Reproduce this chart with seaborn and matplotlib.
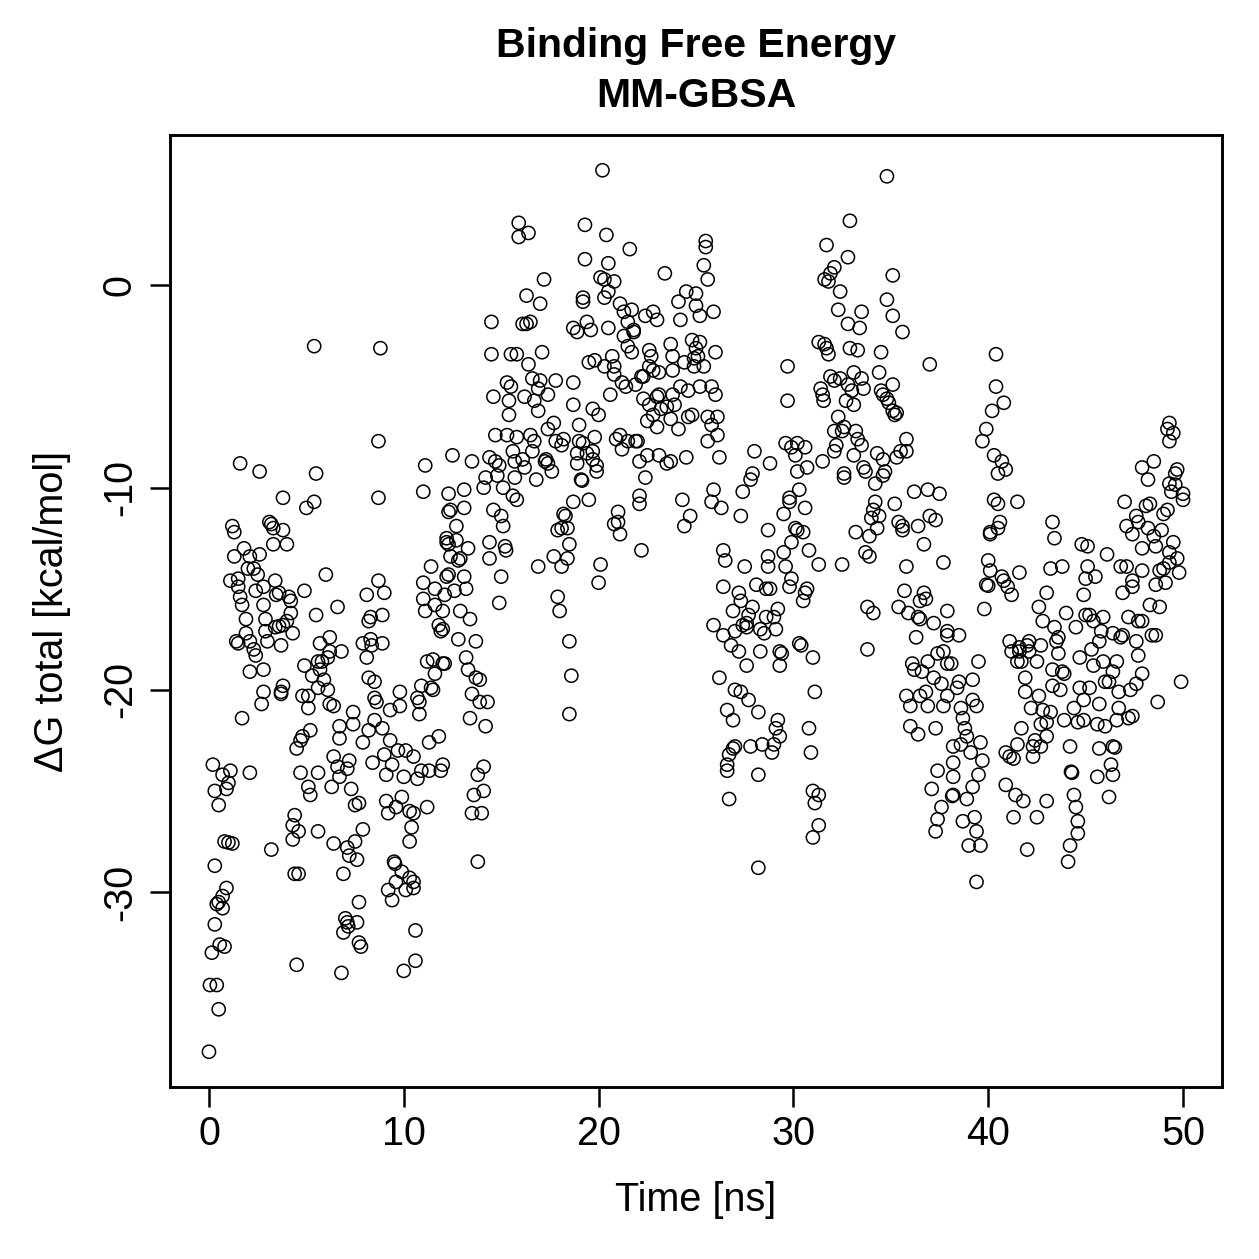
import numpy as np
import pandas as pd
import matplotlib
matplotlib.use("Agg")
import matplotlib.pyplot as plt
import seaborn as sns

# frames: time [ns] and dG total [kcal/mol]
time_ns = [
    0.0, 0.05, 0.4, 0.15, 0.3, 0.4, 0.7, 0.9, 0.7, 0.5, 0.55, 0.8, 0.3, 0.2, 0.3, 0.5, 0.7, 1.1, 1.0, 0.9, 0.8, 1.2, 1.0, 0.5,
    1.2, 1.3, 1.6, 1.8, 1.3, 2.1, 2.6, 2.0, 2.3, 2.5, 1.1, 1.5, 1.5, 1.7, 1.9, 1.4, 1.5, 2.1, 2.3, 2.4, 1.7, 2.1, 2.1, 1.6, 1.9,
    2.6, 5.4, 5.5, 3.8, 5.4, 5.0, 3.1, 3.2, 3.3, 3.8, 3.3, 4.0, 6.0, 3.4, 2.8, 2.4, 3.6, 3.45, 4.1, 4.2, 4.9, 2.8, 4.2, 4.0, 3.8,
    2.9, 2.9, 5.5, 6.6, 3.4, 3.6, 4.3, 3.0, 3.7, 6.2, 5.7, 6.8, 6.2,
    4.9, 5.3, 5.6, 5.8, 6.1, 5.7, 5.9, 5.6, 6.1, 3.8, 3.7, 2.8, 2.8, 4.8, 5.1,
    2.7, 3.7, 5.1, 6.2, 6.4,
    5.2, 4.8, 4.7, 4.5, 4.7, 5.1, 5.2, 5.6,
    4.4, 4.3, 4.6, 4.3, 5.6, 3.2, 4.4, 4.6, 4.5,
    6.4, 6.6, 7.2, 7.1, 6.7, 6.3, 7.3, 7.5, 7.7,
    6.4, 7.1, 7.5, 7.9, 7.2, 7.6, 6.9,
    7.7, 7.0, 7.1, 7.15, 6.9, 7.6, 7.7, 7.8, 6.8,
    7.4, 7.4, 6.7, 6.7, 8.2, 8.5, 8.9, 7.9, 9.3, 9.7, 10.1, 10.5, 9.0, 9.4, 8.4, 9.1, 10.0, 10.7, 10.9, 11.3, 11.8, 11.3, 12.0, 11.9,
    8.6, 9.3, 9.8, 9.8, 10.8, 10.8, 11.5, 10.7, 8.5,
    9.1, 9.9, 9.2, 9.6, 10.3, 10.5, 11.2, 10.4, 10.3,
    9.5, 9.55, 9.9, 9.6, 10.3, 10.5, 10.1, 10.5, 9.2, 9.4,
    10.6, 10.6, 10.0,
    8.8, 8.7, 11.1, 11.0, 8.7,
    8.1, 8.7, 9.0, 8.3, 8.2, 8.9, 7.9, 8.3, 8.9, 8.35, 8.1, 8.2, 8.5,
    11.1, 11.8, 11.9, 11.6, 11.0, 11.0, 11.4, 11.6, 12.1, 12.2, 12.2, 12.3,
    11.2, 11.5, 12.0, 11.6, 10.9, 11.4,
    12.3, 13.1, 12.4, 13.1, 12.7, 12.2, 12.3, 12.7, 13.3, 12.4, 12.8, 12.9, 12.3, 13.1, 12.6, 13.2, 12.9, 13.4, 12.0, 12.8,
    13.7, 12.0, 13.2, 13.3, 13.7, 13.9, 12.1, 13.5, 13.9, 14.3, 13.4, 14.2, 13.8, 14.1, 13.6, 14.1, 13.8, 13.5, 14.0,
    12.5, 13.5, 14.2, 14.1, 14.4, 14.7, 14.9, 14.8, 15.1, 15.6, 15.8, 14.6, 15.0, 15.1, 14.4, 15.2, 15.25, 14.4, 15.0, 14.9,
    15.6, 15.7, 16.1, 16.6, 16.2, 15.7, 16.8, 17.3, 17.4, 17.6, 17.25, 18.1, 18.9, 18.9, 19.4, 19.7, 19.7, 19.9, 19.9, 19.1, 19.15,
    18.7, 18.2, 18.3, 17.9, 18.1, 18.4, 18.5, 17.7, 18.1, 18.4, 16.9, 17.9, 18.0, 18.5, 18.6, 18.5, 19.5, 20.1, 20.0,
    21.0, 20.8, 21.0, 21.1, 22.1, 22.5, 23.1, 23.5, 23.7, 24.5, 22.4, 22.1, 22.1, 22.2, 24.3, 24.7, 24.4, 21.2, 21.9,
    20.2, 15.9, 16.4, 15.9, 19.3, 20.4, 21.6, 19.3, 20.5, 23.4, 17.2, 20.1, 20.3, 20.8, 20.5, 20.3, 16.3, 17.0, 19.2, 19.2,
    14.5, 16.1, 16.3, 16.5, 18.7, 18.9, 19.4, 19.6, 20.5,
    21.1, 21.3, 21.7, 21.5, 21.8, 21.8, 21.3, 21.5, 21.7, 22.4, 22.8, 23.0, 24.1, 24.5, 25.0, 25.0, 25.2, 24.2,
    14.5, 15.5, 15.8, 16.4, 17.1, 19.5, 19.8, 20.3, 20.7, 20.8, 20.8,
    22.6, 22.7, 22.6, 22.8, 22.3, 23.1, 23.7, 23.8, 23.8, 24.4, 24.8, 25.0, 24.9, 25.1,
    15.3, 15.5, 14.6, 15.4, 15.4, 16.2, 16.6, 17.0, 17.8, 16.9, 16.7, 16.9, 17.4, 18.7, 18.7, 19.0, 19.7, 20.0, 20.6,
    21.2, 21.4, 21.9, 22.2, 22.3, 22.6, 23.0, 23.1, 22.8, 22.5, 23.2, 23.5, 23.8, 23.9, 24.2, 24.6, 24.6, 24.8, 24.1, 23.7, 23.0,
    14.7, 15.3, 15.8, 16.5, 16.7, 17.4, 17.7, 17.8, 18.2, 19.0, 19.2, 19.8, 20.9, 21.1, 21.5, 22.0,
    25.5, 25.5, 25.4, 25.6, 25.9, 25.2, 25.4, 24.9,
    26.0, 25.2, 25.8, 26.0, 25.6, 26.1, 25.8, 26.1, 25.6, 26.2, 25.9,
    29.7, 29.7,
    29.6, 30.2, 29.9, 30.6, 30.1, 30.7, 30.2, 30.3, 29.8, 28.8, 28.0, 27.9, 27.8, 27.4,
    25.8, 26.3, 27.3, 28.7, 29.5, 29.8, 30.6,
    30.1, 30.2, 30.5, 29.9, 29.5, 29.6, 30.8, 31.3, 32.5,
    26.4, 26.5, 27.5, 28.7, 28.7, 26.4, 27.2, 27.3, 26.9, 28.1, 28.6, 28.8, 29.2, 29.0, 28.6, 27.9, 27.7, 27.6, 27.4, 27.6,
    28.3, 28.5, 29.1, 27.0, 26.4, 25.9, 26.8, 27.2, 28.3, 29.3, 29.4, 29.3, 27.6, 29.9, 29.8, 30.7, 30.6, 30.5, 30.3, 30.4, 31.0,
    26.2, 27.0, 27.3, 27.7, 26.6, 26.9, 28.2, 29.2, 29.1, 29.3, 29.0, 28.9, 28.4, 27.8, 27.0, 26.9, 26.7, 26.6, 26.6, 28.2,
    26.7, 28.2, 31.1, 30.8, 30.9, 31.0, 31.3, 31.1, 31.3, 31.0,
    34.8, 32.9, 31.7, 32.8, 32.1, 31.9, 31.6, 31.8, 32.4, 32.3, 35.1, 34.8, 35.1, 35.6, 32.8, 33.4, 33.5, 31.3, 31.6, 31.7,
    31.8, 32.9, 33.3, 34.5, 37.0,
    31.9, 32.1, 32.4, 32.8, 33.1, 33.5, 33.6, 33.0, 32.7, 33.1, 31.4, 31.5, 31.55, 34.4, 34.5, 34.6, 34.8, 34.9, 35.1, 35.1,
    35.3, 35.2,
    32.3, 32.1, 32.5, 32.6, 33.2, 33.3, 33.5, 33.1, 31.5, 32.1, 32.2, 33.6, 33.7, 34.2, 34.3, 34.6, 34.7, 34.6, 35.3, 35.5,
    35.8, 35.8, 32.6, 32.6,
    36.2, 36.9, 37.5,
    33.2, 33.9, 33.7, 33.9, 34.1, 34.2, 34.0, 34.4, 34.3, 35.2, 35.4, 35.6, 35.6, 37.0, 37.3, 36.4, 36.7, 35.8, 37.7,
    33.8, 34.1, 33.8,
    35.7, 36.7, 36.8, 36.5, 35.4, 35.9, 36.4, 36.5, 37.2, 37.9, 37.9, 37.9, 36.3, 37.4, 37.7, 36.9, 37.9, 36.1, 36.2, 36.6,
    37.2, 37.6, 37.9, 35.8, 36.0, 36.5, 36.8, 36.9, 37.7, 36.0, 36.4, 37.3, 38.2, 38.2, 37.4, 37.1, 38.2, 38.2, 37.6, 37.4,
    37.3,
    40.4, 40.4, 40.8, 40.2, 39.9, 39.7, 40.3, 40.7, 40.9, 40.5, 40.3, 40.5, 41.5, 40.6, 40.1, 40.1, 40.5, 38.5,
    40.0, 40.1, 39.9, 40.0, 40.7, 40.8, 41.0, 41.2, 41.6, 39.8,
    43.3, 43.4,
    43.2, 43.8, 43.0, 42.6, 42.8, 43.4, 43.6, 43.5, 44.0, 44.5, 42.1, 41.6, 41.1,
    44.8, 45.1, 46.1, 45.1, 45.5, 45.0, 44.9, 45.0, 45.2, 45.4, 45.9, 45.8, 46.4, 46.8, 46.9, 45.7,
    46.8, 47.1, 47.4, 47.4, 46.9, 47.9, 47.2, 47.7, 48.3, 48.8, 48.4, 47.6, 48.6, 47.9,
    47.0, 47.6, 47.7, 48.1, 48.3, 47.1, 47.4, 48.2, 48.5, 48.6, 47.9, 48.9, 49.0, 49.2, 49.5, 49.3, 49.7, 49.8, 49.0, 48.8,
    48.6, 49.1, 49.3,
    47.9, 48.5, 48.2,
    49.3, 49.2, 49.5, 49.3,
    49.7, 49.6, 49.3, 49.6, 49.4, 50.0, 50.0,
    39.5, 39.2, 38.1, 38.4, 38.5, 38.6, 39.2, 39.4, 38.7, 38.8, 38.9, 38.6, 39.1, 39.6, 39.7, 39.5, 39.2, 38.9, 38.15, 38.7,
    39.3, 39.4, 39.0, 39.6, 39.4,
    41.2, 41.5, 41.7, 41.6, 42.0, 42.1, 42.5, 42.7, 43.6, 41.9, 41.9, 42.6, 43.3, 43.8, 43.9, 43.7, 43.3, 44.7, 45.4, 45.3,
    45.9, 46.6, 46.4, 46.0, 46.2, 47.9, 47.6, 47.3, 46.7, 47.7, 44.7, 45.2, 44.9, 45.7, 46.7, 44.4, 42.2, 42.8, 43.2, 42.7,
    43.0, 43.9, 44.6, 44.9, 45.6, 46.0, 46.6, 47.2, 47.4, 41.7, 43.0, 42.4, 42.3, 42.7, 41.5, 40.9, 41.1, 41.3, 42.3, 44.2,
    45.7, 46.4, 46.5, 44.3, 44.25, 46.3, 46.4, 45.6, 40.9, 41.4, 41.8, 43.0, 44.4, 44.5, 44.6, 44.6, 44.2, 44.1, 46.2, 41.3,
    42.5, 42.0, 49.9, 48.7,
]

dg_total = [
    -37.9, -34.6, -34.6, -33.0, -31.6, -30.6, -30.8, -29.8, -30.2, -30.5, -32.6, -32.7, -28.7, -23.7, -25.0, -25.7, -24.2, -24.0, -24.6, -24.9, -27.5, -27.6, -27.55, -35.8,
    -11.9, -12.2, -8.8, -13.0, -13.4, -13.4, -13.3, -14.0, -14.0, -14.3, -14.6, -14.5, -14.9, -15.8, -17.2, -17.6, -17.7, -17.6, -18.0, -18.3, -21.4, -19.1, -24.1, -15.4, -16.5,
    -9.2, -3.0, -9.3, -10.5, -10.7, -11.0, -11.7, -11.8, -12.0, -12.1, -12.8, -12.8, -14.3, -14.6, -14.9, -15.1, -15.2, -15.3, -15.4, -15.6, -15.1, -15.8, -16.2, -16.6, -16.8,
    -16.5, -17.1, -16.3, -15.9, -16.9, -16.85, -17.2, -17.6, -17.8, -17.4, -17.7, -18.1, -18.1,
    -18.8, -19.3, -18.6, -18.6, -18.4, -19.0, -19.5, -19.9, -20.0, -19.8, -20.1, -20.1, -19.0, -20.3, -20.3,
    -20.7, -20.2, -20.9, -20.7, -20.8,
    -22.0, -22.3, -22.5, -22.9, -24.1, -24.8, -25.2, -24.1,
    -26.2, -26.7, -27.0, -27.4, -27.0, -27.9, -29.1, -29.1, -33.6,
    -23.3, -23.8, -23.5, -23.9, -24.3, -24.8, -24.9, -25.7, -25.6,
    -27.6, -27.8, -27.5, -26.9, -28.2, -28.4, -29.1,
    -30.5, -31.3, -31.5, -31.7, -32.0, -31.5, -32.5, -32.7, -34.0,
    -21.1, -21.7, -21.8, -22.4, -22.0, -21.5, -21.9, -22.6, -22.5, -23.0, -23.0, -23.3, -23.2, -23.7, -23.6, -24.2, -24.3, -24.4, -24.0, -24.0, -22.3, -22.6, -23.7, -24.0,
    -20.6, -21.0, -20.8, -20.1, -20.6, -21.2, -20.0, -20.4, -20.4,
    -25.5, -25.3, -26.1, -25.8, -26.0, -26.1, -25.8, -26.8, -27.5,
    -28.5, -28.6, -29.0, -29.5, -29.3, -29.5, -29.9, -29.8, -29.9, -30.4,
    -31.9, -33.4, -33.9,
    -3.1, -7.7, -8.9, -10.2, -10.5,
    -15.3, -14.6, -15.2, -16.4, -16.6, -16.3, -17.7, -17.5, -17.7, -17.8, -18.4, -19.4, -19.6,
    -16.1, -16.8, -17.1, -15.8, -15.5, -14.7, -13.9, -15.0, -15.3, -14.4, -12.7, -11.2,
    -18.6, -18.5, -18.7, -19.2, -19.8, -19.9,
    -10.3, -10.1, -11.1, -11.0, -11.9, -12.5, -12.8, -12.6, -13.0, -13.4, -13.6, -13.5, -14.3, -14.4, -15.1, -15.0, -16.1, -16.5, -16.1, -17.5,
    -17.6, -17.0, -18.4, -19.0, -19.4, -19.5, -18.7, -20.2, -20.6, -20.6, -21.4, -21.8, -24.2, -23.8, -25.2, -25.0, -28.5, -26.1, -26.1,
    -8.4, -8.7, -9.5, -10.0, -8.5, -8.7, -8.9, -9.4, -10.0, -10.4, -10.6, -11.1, -11.4, -11.9, -12.7, -12.9, -13.1, -13.5, -14.4, -15.7,
    -8.2, -8.7, -8.6, -8.2, -9.0, -9.5, -9.6, -8.6, -8.8, -9.2, -8.7, -7.9, -8.3, -8.8, -8.3, -8.2, -8.6, -9.2, -8.9, -9.6, -9.65,
    -10.7, -11.3, -11.4, -12.1, -12.0, -12.0, -12.8, -13.4, -13.9, -13.5, -13.9, -15.4, -16.1, -17.6, -19.3, -21.2, -10.6, -13.8, -14.7,
    -11.2, -11.8, -11.7, -12.3, -8.7, -8.4, -8.4, -8.8, -8.7, -8.5, -9.5, -10.4, -10.8, -13.1, -10.6, -11.4, -11.9, -8.1, -7.7,
    5.7, 3.1, 2.6, 2.4, 3.0, 2.5, 1.8, 1.3, 1.1, 0.6, 0.3, 0.4, 0.3, 0.2, -0.3, -0.6, -0.5, -0.9, -0.6, -0.8,
    -1.8, -1.9, -1.9, -1.8, -2.1, -2.3, -1.8, -2.2, -2.1,
    -0.9, -1.3, -1.2, -1.8, -2.2, -2.3, -2.5, -3.0, -3.3, -1.5, -1.3, -1.7, -0.8, -0.3, -0.4, -1.0, -1.5, -1.7,
    -3.4, -3.4, -3.4, -3.9, -3.3, -3.8, -3.7, -4.0, -3.5, -4.0, -4.4,
    -3.2, -3.5, -4.0, -4.2, -4.5, -4.3, -2.9, -3.5, -4.2, -3.8, -2.7, -3.1, -3.6, -3.5,
    -4.8, -5.0, -5.5, -5.7, -6.4, -5.5, -4.6, -4.7, -4.7, -5.1, -5.7, -6.2, -5.4, -4.8, -5.9, -6.9, -6.1, -6.4, -5.4,
    -4.8, -5.0, -4.9, -4.5, -5.6, -5.9, -5.5, -5.4, -6.4, -6.7, -6.1, -6.0, -5.4, -5.9, -5.0, -5.2, -6.5, -6.4, -7.1, -6.6, -7.0,
    -7.4, -7.4, -7.5, -7.4, -7.7, -7.1, -6.8, -7.7, -7.6, -7.7, -7.8, -7.5, -7.6, -7.4, -7.7, -7.7,
    2.2, 1.9, 1.0, 0.3, -1.3, -2.8, -4.0, -4.0,
    -3.3, -5.0, -5.0, -5.4, -6.5, -6.5, -6.9, -7.4, -7.7, -8.5, -10.1,
    -4.0, -5.7,
    -7.8, -7.8, -8.0, -8.0, -8.4, -9.0, -9.2, -10.1, -10.5, -8.8, -8.2, -9.3, -9.6, -10.2,
    -10.7, -11.0, -11.4, -12.1, -11.3, -10.7, -11.0,
    -12.0, -12.1, -12.2, -12.7, -13.2, -13.9, -13.1, -13.8, -13.8,
    -13.1, -13.6, -13.9, -13.4, -13.9, -14.9, -15.2, -15.6, -16.1, -14.8, -15.0, -15.0, -16.0, -16.4, -16.4, -15.9, -16.3, -16.7, -16.8, -16.9,
    -17.0, -17.2, -17.0, -17.1, -17.3, -16.8, -17.8, -18.1, -18.1, -18.1, -18.2, -18.8, -18.8, -14.5, -14.9, -15.0, -15.2, -15.6, -17.7, -17.8, -18.4,
    -19.4, -20.0, -20.1, -20.5, -21.0, -21.5, -21.1, -21.5, -21.9, -22.3, -22.7, -23.1, -22.7, -22.8, -22.8, -22.9, -23.2, -23.7, -24.0, -24.2,
    -25.4, -28.8, -20.1, -21.9, -23.1, -25.0, -25.2, -25.6, -26.7, -27.3,
    5.4, 3.2, 2.0, 1.4, 0.9, 0.6, 0.3, 0.2, -0.3, -1.2, 0.5, -0.7, -1.5, -2.3, -1.9, -2.1, -1.3, -2.8, -2.9, -3.1,
    -3.4, -3.1, -3.2, -3.3, -3.9,
    -4.5, -4.7, -4.6, -4.9, -4.3, -4.6, -5.1, -5.2, -5.7, -5.9, -5.1, -5.4, -5.7, -4.3, -5.2, -5.4, -5.6, -5.8, -6.2, -4.9,
    -6.3, -6.4,
    -6.5, -7.2, -7.2, -7.0, -7.2, -7.6, -7.9, -8.4, -8.7, -8.2, -7.9, -9.0, -9.2, -9.8, -8.3, -8.6, -9.2, -9.4, -8.5, -8.2,
    -7.6, -8.2, -9.3, -9.5,
    -10.2, -10.1, -10.3,
    -12.2, -12.4, -13.2, -13.4, -11.1, -10.7, -11.5, -11.4, -12.0, -10.8, -11.7, -11.9, -12.1, -11.4, -11.6, -11.9, -12.8, -13.9, -13.7,
    -15.9, -16.2, -18.0,
    -15.1, -15.2, -15.5, -15.6, -15.9, -16.2, -16.4, -16.5, -16.7, -16.1, -17.1, -17.3, -17.4, -18.2, -18.1, -18.6, -18.7, -18.7, -19.0, -19.1,
    -19.4, -19.7, -20.3, -20.3, -20.8, -20.3, -20.1, -20.8, -20.8, -21.8, -22.2, -21.9, -22.8, -23.6, -24.0, -24.9, -24.3, -25.2, -25.8, -26.4,
    -27.0,
    -3.4, -5.0, -5.8, -6.2, -7.1, -7.7, -8.4, -8.7, -9.1, -9.3, -10.6, -10.8, -10.7, -11.7, -12.2, -12.3, -12.0, -17.3,
    -13.6, -14.1, -14.8, -14.85, -14.4, -14.6, -14.9, -15.3, -14.2, -16.0,
    -11.7, -12.5,
    -14.0, -13.9, -15.2, -15.9, -16.6, -16.9, -17.4, -17.6, -16.2, -16.9, -17.6, -17.9, -17.6,
    -12.8, -12.9, -13.3, -13.9, -14.4, -14.5, -15.3, -16.3, -16.3, -16.6, -16.4, -17.1, -17.2, -17.4, -17.3, -17.6,
    -13.9, -13.9, -14.6, -14.9, -15.2, -14.1, -16.4, -16.6, -15.8, -15.9, -17.3, -17.6, -17.3, -16.6,
    -10.7, -11.4, -11.7, -10.9, -10.8, -11.9, -12.3, -12.0, -12.4, -12.9, -13.0, -12.1, -11.3, -11.1, -12.7, -13.2, -13.5, -14.2, -14.0, -14.1,
    -14.8, -14.7, -13.7,
    -9.0, -8.7, -9.6,
    -6.8, -7.1, -7.3, -7.7,
    -9.1, -9.3, -9.8, -9.85, -10.2, -10.3, -10.6,
    -18.6, -19.5, -18.7, -19.9, -19.6, -20.9, -20.5, -20.8, -21.4, -21.9, -22.3, -22.7, -23.1, -22.6, -23.5, -24.2, -24.8, -25.4, -25.25, -26.5,
    -26.3, -27.0, -27.7, -27.7, -29.5,
    -18.1, -18.6, -18.6, -18.1, -17.8, -18.1, -18.6, -17.8, -18.2, -19.4, -20.1, -20.3, -19.0, -19.1, -19.2, -20.0, -19.8, -18.4, -18.8, -18.0,
    -18.6, -18.6, -19.1, -19.6, -19.6, -19.2, -19.7, -20.0, -20.1, -18.3, -19.9, -19.9, -20.5, -20.7, -20.9, -20.9, -20.9, -21.0, -21.1, -21.7,
    -21.6, -21.5, -21.6, -21.5, -21.7, -21.8, -21.5, -21.4, -21.3, -21.9, -22.3, -22.5, -22.8, -22.8, -22.7, -23.1, -23.3, -23.4, -23.3, -22.8,
    -22.9, -22.8, -22.85, -24.1, -24.05, -23.7, -24.2, -24.3, -24.7, -25.2, -25.5, -25.5, -25.2, -25.8, -26.5, -27.1, -27.7, -28.5, -25.3, -26.3,
    -26.3, -27.9, -19.6, -20.6,
]

title_lines = ["Binding Free Energy", "MM-GBSA"]
x_label = "Time [ns]"
y_label = "\u0394G total [kcal/mol]"
x_ticks = [0, 10, 20, 30, 40, 50]
y_ticks = [-30, -20, -10, 0]

df = pd.DataFrame({"time": time_ns, "dg": dg_total})

sns.set_style("ticks")
plt.rcParams["font.family"] = ["Liberation Sans", "DejaVu Sans"]
plt.rcParams["text.color"] = "black"

W = H = 1259
fig = plt.figure(figsize=(W / 100, H / 100), dpi=100)
ax = fig.add_axes([170 / W, 1 - 1087 / H, 1052 / W, 952 / H])

sns.scatterplot(
    data=df, x="time", y="dg", ax=ax,
    marker="o", s=90, facecolors="none", edgecolor="black", linewidth=1.1,
    legend=False,
)

# R-style 4% padding around the data range
span_x = max(time_ns) - min(time_ns)
span_y = max(dg_total) - min(dg_total)
ax.set_xlim(min(time_ns) - 0.04 * span_x, max(time_ns) + 0.04 * span_x)
ax.set_ylim(min(dg_total) - 0.04 * span_y, max(dg_total) + 0.04 * span_y)

ax.set_xticks(x_ticks)
ax.set_yticks(y_ticks)
ax.set_xticklabels([str(v) for v in x_ticks])
ax.set_yticklabels([str(v) for v in y_ticks], rotation=90, va="center")
ax.tick_params(axis="both", direction="out", length=14.4, width=1.8,
               color="black", labelsize=28.5, labelcolor="black")
ax.tick_params(axis="x", pad=6)
ax.tick_params(axis="y", pad=8)
for sp in ax.spines.values():
    sp.set_visible(True)
    sp.set_linewidth(2.1)
    sp.set_color("black")
ax.set_xlabel("")
ax.set_ylabel("")

fig.text(696 / W, 1 - 46 / H, title_lines[0], ha="center", va="center",
         fontsize=29.5, fontweight="bold", color="black")
fig.text(696 / W, 1 - 96 / H, title_lines[1], ha="center", va="center",
         fontsize=29.5, fontweight="bold", color="black")
fig.text(696 / W, 1 - 1200 / H, x_label, ha="center", va="center",
         fontsize=28.5, color="black")
fig.text(52 / W, 1 - 611 / H, y_label, ha="center", va="center",
         rotation=90, fontsize=28.5, color="black")

fig.savefig("out.png", dpi=100, facecolor="white")
